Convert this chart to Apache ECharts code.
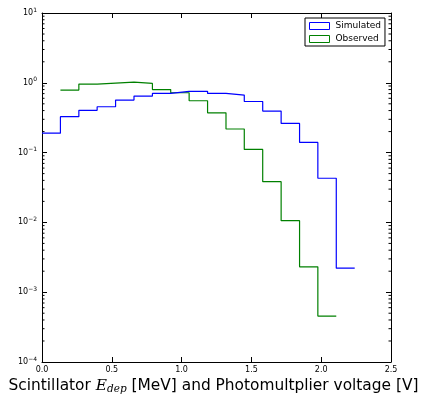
<!DOCTYPE html>
<html><head><meta charset="utf-8">
<script src="https://cdn.jsdelivr.net/npm/echarts@6/dist/echarts.min.js"></script>
<style>html,body{margin:0;padding:0;background:#fff}#c{width:425px;height:396px}</style>
</head><body><div id="c"></div>
<script>
const binEdges = [0, 0.132, 0.264, 0.395, 0.527, 0.659, 0.791, 0.922, 1.054, 1.186, 1.318, 1.449, 1.581, 1.713, 1.845, 1.976, 2.108, 2.24];
const simulated = [0.19, 0.327, 0.403, 0.454, 0.566, 0.645, 0.705, 0.753, 0.755, 0.705, 0.667, 0.54, 0.394, 0.262, 0.14, 0.0429, 0.00221];
const observedStartBin = 1;
const observed = [0.786, 0.958, 0.99, 1.02, 0.98, 0.80, 0.72, 0.553, 0.372, 0.218, 0.111, 0.0383, 0.0106, 0.00231, 0.000455];
const xTicks = [0, 0.5, 1.0, 1.5, 2.0, 2.5];
const yDecades = [-4, -3, -2, -1, 0, 1];

function stepData(edges, start, vals) {
  const pts = vals.map((v, i) => [edges[start + i], v]);
  pts.push([edges[start + vals.length], vals[vals.length - 1]]);
  return pts;
}
const minorVals = [];
for (let d = yDecades[0]; d < yDecades[yDecades.length - 1]; d++) {
  for (let m = 2; m <= 9; m++) minorVals.push([0, m * Math.pow(10, d)]);
}

const FONT = 'DejaVu Sans';
const chart = echarts.init(document.getElementById('c'), null, {renderer: 'canvas'});
const yLabel = {
  fontFamily: FONT, fontSize: 8, color: '#000', margin: 5,
  formatter: v => '10{s|' + String(Math.round(Math.log10(v))).replace('-', '\u2212') + '}',
  rich: { s: { fontSize: 6, fontFamily: FONT, color: '#000', padding: [0, 0, 6, 0] } }
};
const axLine = { show: true, onZero: false, lineStyle: { color: '#000', width: 1 } };
const axTick = { show: true, inside: true, length: 5, lineStyle: { color: '#000' } };
chart.setOption({
  animation: false,
  grid: { left: 42, right: 34, top: 13, bottom: 34, containLabel: false, outerBoundsMode: 'none' },
  legend: {
    orient: 'vertical', left: 305, top: 18,
    padding: [3, 4, 2, 4], itemGap: 3,
    borderColor: '#000', borderWidth: 1, backgroundColor: '#fff',
    itemWidth: 20, itemHeight: 7, itemStyle: { borderWidth: 1 },
    textStyle: { fontFamily: FONT, fontSize: 9, color: '#000', lineHeight: 10, padding: [0,0,0,1] },
    data: [
      { name: 'Simulated', icon: 'rect', itemStyle: { color: '#fff', borderColor: '#0000ff', borderWidth: 1 } },
      { name: 'Observed', icon: 'rect', itemStyle: { color: '#fff', borderColor: '#008000', borderWidth: 1 } }
    ]
  },
  xAxis: [{
    type: 'value', min: 0, max: 2.5, interval: 0.5,
    name: 'Scintillator {e|E}{d|dep} [MeV] and Photomultplier voltage [V]',
    nameLocation: 'middle', nameGap: 15,
    nameTextStyle: { fontFamily: FONT, fontSize: 15.4, color: '#000', padding: [0, 6, 0, 0],
      rich: { e: { fontFamily: 'DejaVu Serif', fontStyle: 'italic', fontSize: 15.4, color: '#000' },
              d: { fontFamily: 'DejaVu Serif', fontStyle: 'italic', fontSize: 10.5, color: '#000', padding: [6, 0, 0, 0] } } },
    axisLine: axLine, axisTick: axTick,
    axisLabel: { fontFamily: FONT, fontSize: 8, color: '#000', margin: 4, formatter: v => v.toFixed(1) },
    splitLine: { show: false }
  }, {
    type: 'value', min: 0, max: 2.5, interval: 0.5, position: 'top',
    axisLine: axLine, axisTick: axTick,
    axisLabel: { show: false }, splitLine: { show: false }
  }],
  yAxis: [{
    type: 'log', logBase: 10, min: 1e-4, max: 10, position: 'left',
    axisLine: axLine, axisTick: axTick,
    axisLabel: yLabel, splitLine: { show: false }, minorTick: { show: false }
  }, {
    type: 'log', logBase: 10, min: 1e-4, max: 10, position: 'right',
    axisLine: axLine, axisTick: axTick,
    axisLabel: { show: false }, splitLine: { show: false }
  }],
  series: [{
    name: 'Simulated', type: 'line', step: 'end', showSymbol: false,
    data: stepData(binEdges, 0, simulated),
    lineStyle: { color: '#0000ff', width: 1.2 }, itemStyle: { color: '#0000ff' }, z: 3
  }, {
    name: 'Observed', type: 'line', step: 'end', showSymbol: false,
    data: stepData(binEdges, observedStartBin, observed),
    lineStyle: { color: '#008000', width: 1.2 }, itemStyle: { color: '#008000' }, z: 2
  }, {
    name: 'minor', type: 'custom', silent: true, z: 5,
    data: minorVals,
    renderItem: (params, api) => {
      const cs = params.coordSys;
      const y = api.coord([0, api.value(1)])[1];
      const st = { stroke: '#000', lineWidth: 1 };
      return { type: 'group', children: [
        { type: 'line', shape: { x1: cs.x, y1: y, x2: cs.x + 2.5, y2: y }, style: st },
        { type: 'line', shape: { x1: cs.x + cs.width, y1: y, x2: cs.x + cs.width - 2.5, y2: y }, style: st }
      ] };
    }
  }]
});
</script></body></html>
